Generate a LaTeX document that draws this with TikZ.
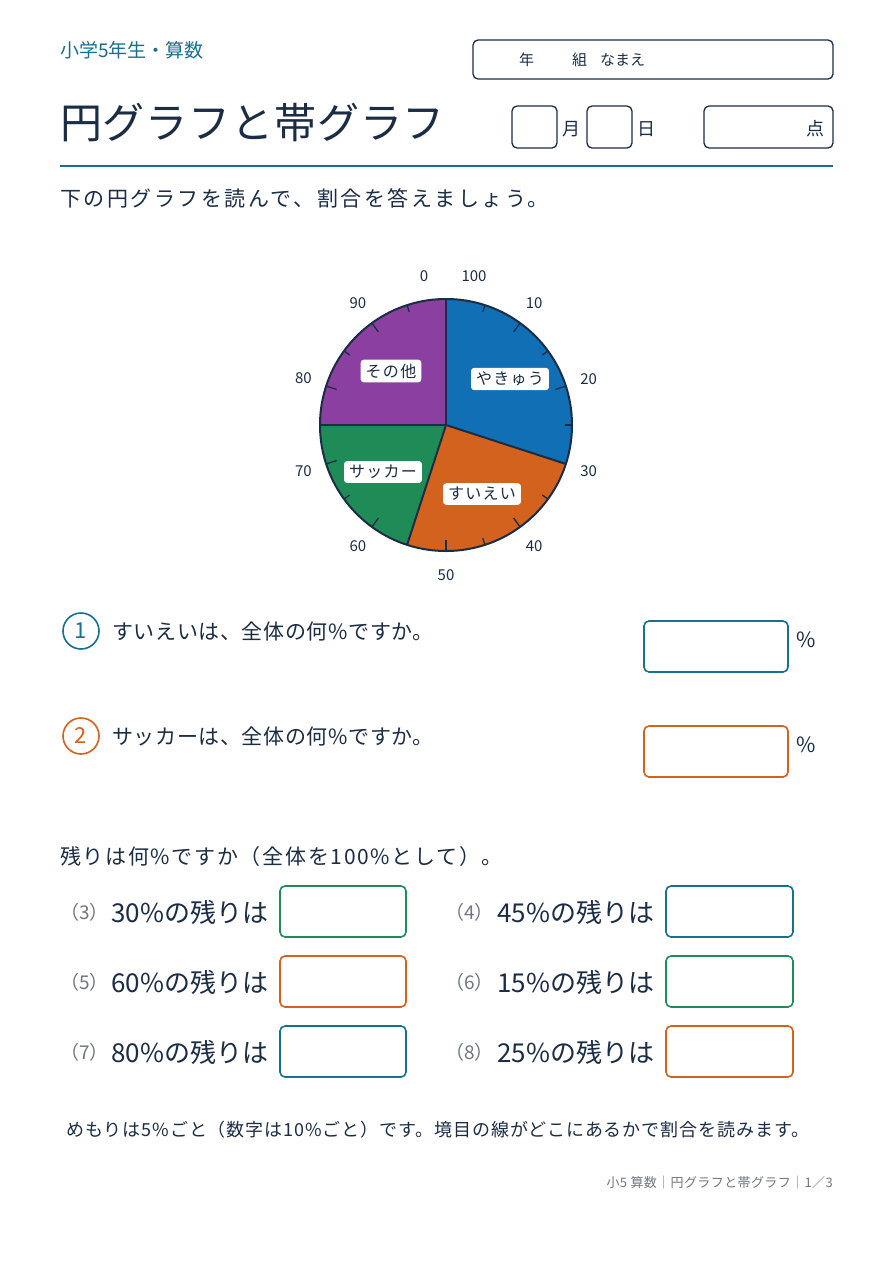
\documentclass[tikz,border=0pt]{standalone}
\usepackage{fontspec}
\usetikzlibrary{calc}
\setmainfont{Noto Sans CJK JP}
\begin{document}
\definecolor{ink}{HTML}{1B2D45}
\definecolor{teal}{HTML}{17708F}
\definecolor{cblue}{HTML}{116FB5}
\definecolor{corange}{HTML}{D2621E}
\definecolor{cgreen}{HTML}{1F8C58}
\definecolor{cpurple}{HTML}{8B3FA0}
\definecolor{gry}{HTML}{707780}
\begin{tikzpicture}[x=1pt,y=1pt,
  txt/.style={anchor=west,inner sep=0,text=ink},
  fs/.style={font=\fontsize{#1}{#1}\selectfont},
  ls/.style 2 args={font=\fontsize{#1}{#1}\selectfont\addfontfeature{LetterSpace=#2}},
  hbox/.style={draw=ink,line width=1.3,rounded corners=5},
  abox/.style={draw=#1,line width=1.6,rounded corners=5},
  slice/.style={draw=ink,line width=2,line join=round},
  plab/.style={fill=white,rounded corners=3,inner xsep=5,inner ysep=4,text=ink,ls={16}{8}},
  num/.style={text=ink,fs=15,inner sep=0},
  qnum/.style={circle,draw=#1,line width=1.6,minimum size=36,inner sep=0,text=#1,fs=22}]
\useasboundingbox (0,0) rectangle (893,-1263);
\fill[white] (0,0) rectangle (893,-1263);
% header
\node[txt,text=teal,fs=19] (grade) at (60,-50) {小学5年生・算数};
\draw[hbox] (473,-40) rectangle (833,-79);
\node[txt,fs=15] (nen) at (519,-60) {年};
\node[txt,fs=15] (kumi) at (572,-60) {組};
\node[txt,fs=15] (namae) at (600,-60) {なまえ};
\node[txt,ls={42}{2}] (title) at (60,-123) {円グラフと帯グラフ};
\draw[hbox] (512,-106) rectangle (557,-148);
\node[txt,fs=18] (tsuki) at (562,-129) {月};
\draw[hbox] (587,-106) rectangle (632,-148);
\node[txt,fs=18] (hi) at (637,-129) {日};
\draw[hbox] (704,-106) rectangle (833,-148);
\node[txt,fs=18] (ten) at (806,-129) {点};
\draw[teal,line width=2] (60,-166) -- (833,-166);
\node[txt,ls={21}{12}] (inst) at (60,-198) {下の円グラフを読んで、割合を答えましょう。};
% pie
\coordinate (c) at (446,-425);
\def\R{126}
\fill[cblue] (c) -- ++(90:\R) arc[start angle=90,end angle=-18,radius=\R] -- cycle;
\fill[corange] (c) -- ++(-18:\R) arc[start angle=-18,end angle=-108,radius=\R] -- cycle;
\fill[cgreen] (c) -- ++(-108:\R) arc[start angle=-108,end angle=-180,radius=\R] -- cycle;
\fill[cpurple] (c) -- ++(180:\R) arc[start angle=180,end angle=90,radius=\R] -- cycle;
\foreach \a in {90,-18,-108,180} \draw[slice] (c) -- ++(\a:\R);
\draw[slice] (c) circle[radius=\R];
\foreach \p in {5,10,...,95} {
  \pgfmathsetmacro\ang{90-3.6*\p}
  \pgfmathsetmacro\len{mod(\p,10)==0 ? 11 : 7}
  \draw[ink,line width=1.3] ($(c)+(\ang:\R)$) -- ($(c)+(\ang:\R-\len)$);
}
\foreach \p in {10,20,...,90} {
  \pgfmathsetmacro\ang{90-3.6*\p}
  \node[num] at ($(c)+(\ang:150)$) {\p};
}
\node[num] (zero) at (424,-276) {0};
\node[num] (hund) at (474,-276) {100};
\node[plab] (yak) at (510,-379) {やきゅう};
\node[plab] (sui) at (482,-494) {すいえい};
\node[plab] (sak) at (383,-472) {サッカー};
\node[plab] (oth) at (391,-371) {その他};
% questions
\node[qnum=teal] (q1) at (81,-631) {1};
\node[txt,ls={21}{3}] (q1t) at (112,-631) {すいえいは、全体の何\%ですか。};
\draw[abox=teal] (644,-621) rectangle (788,-672);
\node[txt,fs=21] (p1) at (796,-640) {\%};
\node[qnum=corange] (q2) at (81,-736) {2};
\node[txt,ls={21}{3}] (q2t) at (112,-736) {サッカーは、全体の何\%ですか。};
\draw[abox=corange] (644,-726) rectangle (788,-777);
\node[txt,fs=21] (p2) at (796,-745) {\%};
\node[txt,ls={21}{8}] (rest) at (60,-857) {残りは何\%ですか（全体を100\%として）。};
\foreach \y/\ln/\lt/\lc/\rn/\rt/\rc in {
  912/3/30/cgreen/4/45/teal,
  982/5/60/corange/6/15/cgreen,
  1052/7/80/teal/8/25/corange} {
  \node[txt,text=gry,fs=19] at (60,-\y) {（\ln）};
  \node[txt,fs=26] at (111,-\y) {\lt\%の残りは};
  \draw[abox=\lc] (280,-\y+26) rectangle (406,-\y-25);
  \node[txt,text=gry,fs=19] at (445,-\y) {（\rn）};
  \node[txt,fs=26] at (497,-\y) {\rt\%の残りは};
  \draw[abox=\rc] (666,-\y+26) rectangle (793,-\y-25);
}
\node[txt,ls={18}{5}] (note) at (66,-1130) {めもりは5\%ごと（数字は10\%ごと）です。境目の線がどこにあるかで割合を読みます。};
\node[anchor=east,inner sep=0,text=gry,ls={13}{3}] (foot) at (833,-1183) {小5 算数｜円グラフと帯グラフ｜1／3};
\end{tikzpicture}
\end{document}
